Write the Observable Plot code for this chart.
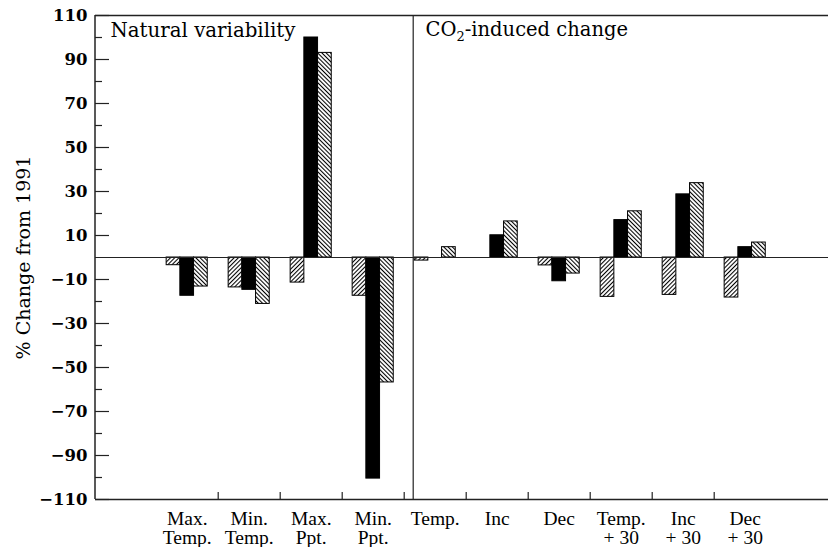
<!DOCTYPE html>
<html><head><meta charset="utf-8">
<script src="https://cdn.jsdelivr.net/npm/d3@7"></script>
<script src="https://cdn.jsdelivr.net/npm/@observablehq/plot@0.6"></script>
<style>body{margin:0;background:#fff}</style>
</head><body><div id="chart"></div>
<script>
// ---- data ----
const categories = ["MaxT", "MinT", "MaxP", "MinP", "Temp", "Inc", "Dec", "Temp30", "Inc30", "Dec30"];
const categoryLabels = ["Max.\nTemp.", "Min.\nTemp.", "Max.\nPpt.", "Min.\nPpt.", "Temp.", "Inc", "Dec", "Temp.\n+ 30", "Inc\n+ 30", "Dec\n+ 30"];
const seriesHatchUp   = [-3.5, -13.6, -11.4, -17.4, -1.4, 0, -3.6, -17.9, -17.0, -18.2];
const seriesBlack     = [-17.4, -14.7, 100, -100.5, 0, 10.1, -10.8, 17.0, 28.7, 4.7];
const seriesHatchDown = [-13.2, -21.1, 93, -56.8, 4.7, 16.4, -7.3, 21.0, 33.8, 6.8];
const majorTicks = [-110, -90, -70, -50, -30, -10, 10, 30, 50, 70, 90, 110];
const minorTicks = [-100, -80, -60, -40, -20, 20, 40, 60, 80, 100];
const yLabel = "% Change from 1991";
const panelLeft = "Natural variability";
const panelRight = "CO2-induced change";

// ---- layout ----
const W = 828, H = 547;
const mL = 95, mR = 0, mT = 15, mB = 48;
const bandW = 62, barW = 13.7;
const inset = (bandW - barW) / 2;
const rows = vals => categories.map((c, i) => ({cat: c, v: vals[i]}));
const labelOf = new Map(categories.map((c, i) => [c, categoryLabels[i]]));
const serif = "DejaVu Serif";

const chart = Plot.plot({
  width: W, height: H,
  marginLeft: mL, marginRight: mR, marginTop: mT, marginBottom: mB,
  style: {fontFamily: serif, fontSize: "16px", color: "#000", background: "#fff"},
  x: {domain: categories, range: [155.7, 155.7 + bandW * categories.length], padding: 0, round: false},
  y: {domain: [-110, 110]},
  marks: [
    Plot.barY(rows(seriesHatchUp), {x: "cat", y: "v", fill: "url(#hatchUp)", stroke: "#000", strokeWidth: 1, insetLeft: inset, insetRight: inset, dx: -barW}),
    Plot.barY(rows(seriesBlack), {x: "cat", y: "v", fill: "#000", stroke: "#000", strokeWidth: 1, insetLeft: inset, insetRight: inset}),
    Plot.barY(rows(seriesHatchDown), {x: "cat", y: "v", fill: "url(#hatchDown)", stroke: "#000", strokeWidth: 1, insetLeft: inset, insetRight: inset, dx: barW}),
    Plot.ruleY([0], {stroke: "#222", strokeWidth: 1.2}),
    Plot.ruleY([-110, 110], {stroke: "#222", strokeWidth: 1.5}),
    Plot.tickY(majorTicks, {y: d => d, stroke: "#222", strokeWidth: 1.2, insetRight: W - mL - mR - 14}),
    Plot.tickY(minorTicks, {y: d => d, stroke: "#222", strokeWidth: 1.2, insetRight: W - mL - mR - 7}),
    Plot.tickX(categories.slice(1), {x: d => d, dx: -bandW / 2, stroke: "#222", strokeWidth: 1.2, insetTop: (H - mT - mB) - 7}),
    Plot.ruleX(["Temp"], {dx: -22, stroke: "#222", strokeWidth: 1.2}),
    Plot.axisY({ticks: majorTicks, tickSize: 0, tickPadding: 8, fontWeight: "bold", fontSize: 16.5, fontFamily: serif,
      tickFormat: d => (d < 0 ? "\u2212" + Math.abs(d) : String(d)), label: null}),
    Plot.axisX({tickSize: 0, tickPadding: 12, fontFamily: "Liberation Serif", fontSize: 19.5, lineHeight: 0.98, tickFormat: d => labelOf.get(d), label: null}),
    Plot.text([yLabel], {frameAnchor: "left", dx: -72, rotate: -90, fontSize: 19, fontFamily: serif, textAnchor: "middle", lineAnchor: "middle"}),
    Plot.text([panelLeft], {frameAnchor: "top-left", dx: 15, dy: 7, fontSize: 19.8, fontFamily: serif, textAnchor: "start", lineAnchor: "top"}),
    Plot.text([panelRight], {frameAnchor: "top-left", dx: 330, dy: 7, fontSize: 19.5, fontFamily: serif, textAnchor: "start", lineAnchor: "top"})
  ]
});

// left frame line
const svg = d3.select(chart);
svg.append("line").attr("x1", mL).attr("x2", mL).attr("y1", mT).attr("y2", H - mB)
  .attr("stroke", "#222").attr("stroke-width", 1.5);

// hatch patterns
svg.insert("defs", ":first-child").html(`
  <pattern id="hatchUp" patternUnits="userSpaceOnUse" width="3" height="3" patternTransform="rotate(45)">
    <rect width="3" height="3" fill="#fff"/><rect width="1.05" height="3" fill="#000"/>
  </pattern>
  <pattern id="hatchDown" patternUnits="userSpaceOnUse" width="3" height="3" patternTransform="rotate(-45)">
    <rect width="3" height="3" fill="#fff"/><rect width="1.05" height="3" fill="#000"/>
  </pattern>`);

// subscript in CO2
svg.selectAll("text").filter(function() { return this.textContent === panelRight; })
  .each(function() {
    const t = d3.select(this);
    t.text(null);
    t.append("tspan").text("CO");
    t.append("tspan").attr("font-size", 13).attr("dy", 5).text("2");
    t.append("tspan").attr("dy", -5).text("-induced change");
  });

document.getElementById("chart").appendChild(chart);
</script>
</body></html>
